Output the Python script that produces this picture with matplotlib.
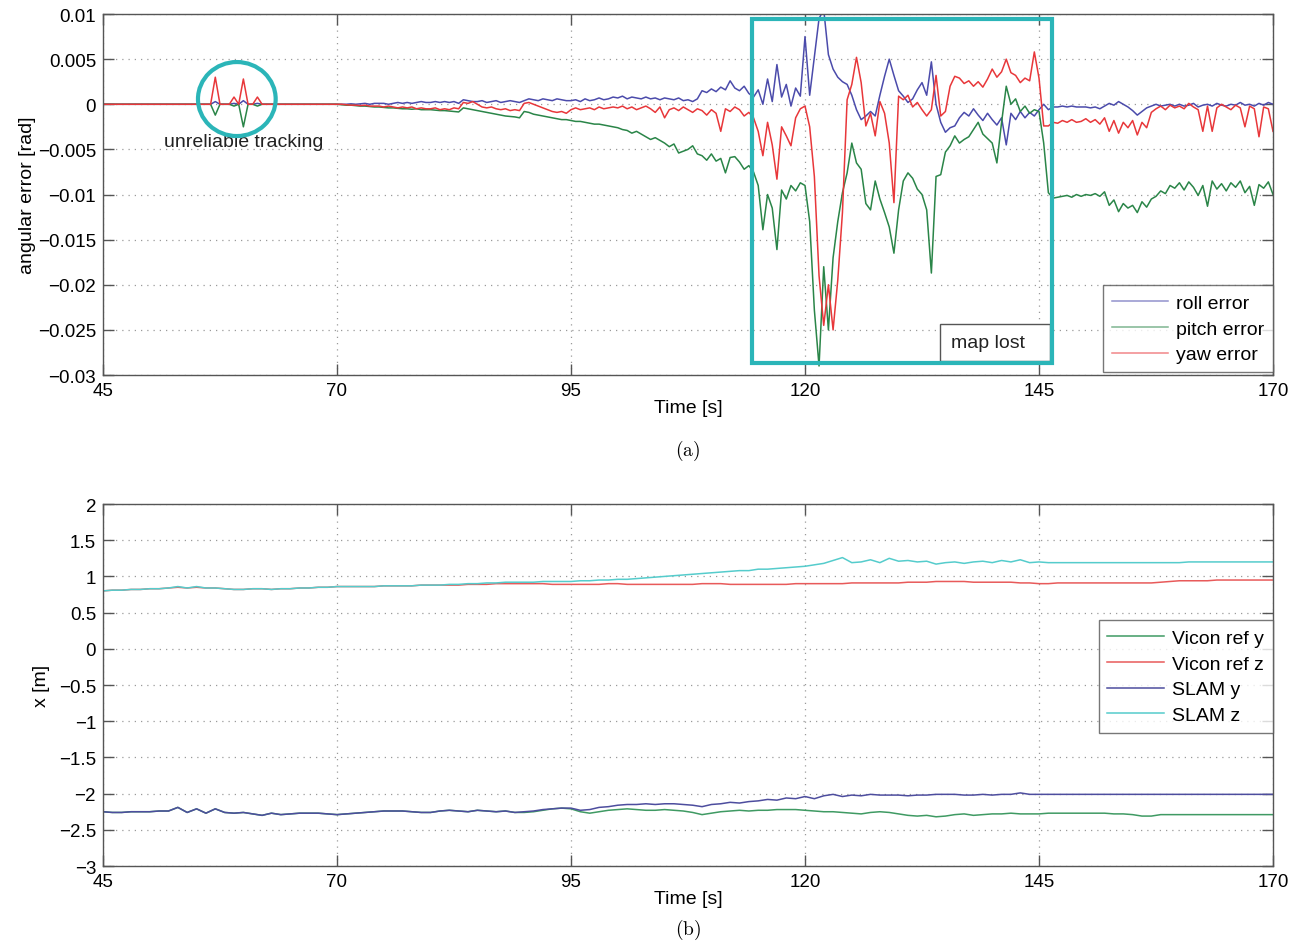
import numpy as np
import matplotlib
matplotlib.use("Agg")
import matplotlib.pyplot as plt
from matplotlib.patches import Rectangle, Ellipse

plt.rcParams["font.family"] = ["Liberation Sans", "DejaVu Sans"]
plt.rcParams["mathtext.fontset"] = "cm"

# --------------------------------------------------------------------------- #
# Data (a): angular errors in mrad, 0.5 s step, 45..170 s
# --------------------------------------------------------------------------- #
t_err = np.arange(45.0, 170.01, 0.5)

roll_err = [
    0, 0, 0, 0, 0, 0, 0, 0, 0, 0,
    0, 0, 0, 0, 0, 0, 0, 0, 0, 0,
    0, 0, 0, 0, 0.3, 0, 0, 0, 0.1, 0,
    0.4, 0, 0, 0.1, 0, 0, 0, 0, 0, 0,
    0, 0, 0, 0, 0, 0, 0, 0, 0, 0,
    0, 0, 0, 0.05, 0, 0.05, 0.1, 0, 0.1, 0.1,
    0.1, 0, 0.1, 0.2, 0.1, 0.2, 0.1, 0.2, 0.3, 0.2,
    0.2, 0.3, 0.2, 0.3, 0.2, 0.3, 0.1, 0.5, 0.4, 0.3,
    0.3, 0.4, 0.2, 0.3, 0.4, 0.2, 0.3, 0.4, 0.3, 0.2,
    0.4, 0.6, 0.5, 0.4, 0.6, 0.5, 0.4, 0.6, 0.5, 0.4,
    0.4, 0.5, 0.3, 0.6, 0.4, 0.5, 0.7, 0.5, 0.6, 0.8,
    0.7, 0.9, 0.6, 0.8, 0.7, 0.6, 0.8, 0.6, 0.7, 0.5,
    0.7, 0.6, 0.5, 0.7, 0.4, 0.5, 0.3, 0.6, 1.5, 1.3,
    1.7, 1.4, 1.9, 1.6, 2.6, 1.8, 1.5, 2.0, 1.2, 0.8,
    1.6, 0.0, 2.8, 0.3, 4.4, 0.8, 2.2, -0.2, 1.8, 0.9,
    7.5, 1.0, 5.3, 9.5, 10.5, 5.5, 3.9, 3.0, 2.5, 2.2,
    1.0, -0.6, -1.7, -1.3, -0.8, -1.3, 1.0, 3.1, 5.0, 3.2,
    1.5, 0.9, 0.2, 0.6, 1.6, 2.4, 1.0, 4.7, 0.0, -2.0,
    -3.1, -2.6, -2.4, -1.5, -0.9, -1.3, -0.5, -1.2, -1.8, -1.0,
    -1.7, -2.3, -1.5, -4.5, -1.0, -1.7, -0.8, -1.5, -0.9, -1.3,
    -0.6, 0.0, -0.6, -0.3, -0.3, -0.2, -0.3, -0.2, -0.3, -0.3,
    -0.3, -0.4, -0.3, -0.5, -0.2, 0.1, -0.1, 0.3, 0.0, -0.3,
    -0.7, -1.2, -0.8, -0.4, -0.2, 0.0, -0.2, -0.1, 0.0, -0.2,
    0.0, -0.2, -0.1, 0.1, -0.3, -0.1, 0.0, -0.2, 0.1, -0.1,
    -0.2, 0.0, -0.1, 0.2, -0.1, 0.0, -0.2, 0.1, -0.1, 0.2,
    0.0,
]

pitch_err = [
    0, 0, 0, 0, 0, 0, 0, 0, 0, 0,
    0, 0, 0, 0, 0, 0, 0, 0, 0, 0,
    0, 0, 0, 0, -1.2, 0, 0, 0, -0.2, 0,
    -2.5, 0, 0, -0.2, 0, 0, 0, 0, 0, 0,
    0, 0, 0, 0, 0, 0, 0, 0, 0, 0,
    0, -0.05, -0.1, -0.1, -0.15, -0.2, -0.2, -0.25, -0.3, -0.3,
    -0.35, -0.4, -0.4, -0.45, -0.5, -0.5, -0.55, -0.5, -0.6, -0.6,
    -0.6, -0.65, -0.7, -0.7, -0.75, -0.8, -0.85, -0.4, -0.5, -0.6,
    -0.7, -0.8, -0.9, -1.0, -1.1, -1.2, -1.3, -1.35, -1.4, -1.5,
    -0.8, -0.9, -1.1, -1.2, -1.3, -1.4, -1.5, -1.6, -1.7, -1.7,
    -1.8, -1.9, -1.9, -2.0, -2.1, -2.2, -2.2, -2.3, -2.4, -2.5,
    -2.6, -2.8, -2.9, -3.2, -3.0, -3.3, -3.6, -3.9, -3.7, -4.0,
    -4.3, -4.7, -4.4, -5.4, -5.2, -5.0, -4.6, -5.5, -5.7, -6.2,
    -5.5, -6.3, -6.0, -7.6, -5.9, -5.8, -6.4, -7.2, -6.8, -7.5,
    -9.0, -13.9, -10.0, -11.5, -16.1, -9.5, -10.5, -9.0, -9.6, -8.7,
    -9.0, -13.0, -22.8, -29.0, -18.0, -25.0, -17.0, -13.0, -9.8, -7.6,
    -4.3, -6.5, -7.2, -11.0, -11.7, -8.5, -10.5, -12.0, -13.6, -16.5,
    -11.7, -8.5, -7.6, -8.2, -9.4, -10.0, -11.7, -18.7, -8.0, -7.8,
    -5.3, -4.6, -3.5, -4.3, -3.9, -3.6, -2.8, -2.0, -3.3, -3.8,
    -4.3, -6.5, -2.0, 2.0, 0.0, 0.6, -0.8, -0.2, -1.0, -0.6,
    -0.8, -4.3, -9.8, -10.4, -10.3, -10.2, -10.1, -10.3, -10.0, -10.2,
    -10.0, -10.1, -9.9, -10.2, -9.7, -11.2, -10.6, -11.9, -11.0, -11.5,
    -11.2, -12.0, -10.8, -11.4, -10.5, -10.2, -9.6, -9.9, -9.0, -9.3,
    -8.7, -9.5, -8.6, -9.2, -10.1, -9.0, -11.3, -8.5, -9.4, -8.8,
    -9.6, -8.7, -9.2, -8.5, -9.8, -9.1, -11.2, -8.9, -9.3, -8.6,
    -10.0,
]

yaw_err = [
    0, 0, 0, 0, 0, 0, 0, 0, 0, 0,
    0, 0, 0, 0, 0, 0, 0, 0, 0, 0,
    0, 0, 0, 0, 3.0, 0, 0, 0, 0.8, 0,
    2.8, 0, 0, 0.8, 0, 0, 0, 0, 0, 0,
    0, 0, 0, 0, 0, 0, 0, 0, 0, 0,
    0, 0, -0.05, -0.1, -0.1, -0.15, -0.1, -0.2, -0.2, -0.2,
    -0.3, -0.2, -0.3, -0.4, -0.3, -0.4, -0.3, -0.5, -0.4, -0.5,
    -0.5, -0.4, -0.6, -0.5, -0.6, -0.4, -0.5, 0.2, 0.1, 0.3,
    0.0, -0.3, -0.4, -0.3, -0.5, -0.6, -0.5, -0.7, -0.6, -0.7,
    0.1, 0.2, 0.0, -0.2, -0.4, -0.6, -0.8, -0.9, -0.8, -1.0,
    -0.6, -0.4, -0.6, -0.5, -0.4, -0.6, -0.3, -0.5, -0.4, -0.3,
    -0.4, -0.2, -0.5, -0.3, -0.6, -0.4, -0.2, -0.5, -0.9, -0.3,
    -1.5, -0.6, -0.4, -0.7, -0.3, -0.6, -0.9, -0.5, -0.7, -1.2,
    -0.6, -1.0, -3.0, -0.5, -0.8, -0.3, -0.6, -1.3, -0.9, -1.5,
    -3.0, -5.7, -2.0, -4.5, -8.3, -2.5, -3.5, -4.6, -1.5, -0.5,
    -0.2, -2.5, -8.0, -19.0, -24.5, -20.0, -25.0, -19.5, -12.0, 0.5,
    2.2, 5.2, 2.4, -2.4, -1.0, -3.5, 0.3, -1.0, -4.3, -10.9,
    0.9, 0.5, 1.0, -0.3, 0.2, -0.6, -1.3, -0.6, 3.2, -1.3,
    -0.8, 2.0, 3.1, 2.9, 2.3, 2.6, 2.0, 2.5, 1.9, 2.8,
    3.9, 3.0, 3.6, 5.0, 3.5, 3.2, 2.4, 2.9, 2.6, 5.8,
    2.9, -2.4, -2.4, -2.0, -2.1, -1.8, -2.0, -1.7, -2.0, -1.9,
    -1.6, -2.0, -1.7, -2.2, -1.5, -3.0, -1.8, -3.2, -2.0, -2.6,
    -1.8, -3.4, -2.0, -2.6, -0.9, -0.5, -0.2, -0.6, -0.1, -0.4,
    -0.2, -0.5, 0.1, -0.3, -0.6, -3.0, -0.2, -3.0, -0.4, 0.0,
    -0.3, -0.6, -0.1, -0.4, -2.5, -0.2, -0.5, -3.6, -0.3, -0.5,
    -3.0,
]

# --------------------------------------------------------------------------- #
# Data (b): positions [m], 1 s step, 45..170 s
# --------------------------------------------------------------------------- #
t_pos = np.arange(45.0, 170.01, 1.0)

vicon_y = [
    -2.25, -2.26, -2.26, -2.25, -2.25, -2.25, -2.24, -2.24, -2.19, -2.26,
    -2.21, -2.27, -2.21, -2.26, -2.27, -2.26, -2.28, -2.30, -2.27, -2.29,
    -2.28, -2.27, -2.27, -2.27, -2.28, -2.29, -2.28, -2.27, -2.26, -2.25,
    -2.24, -2.24, -2.24, -2.25, -2.26, -2.26, -2.24, -2.23, -2.24, -2.25,
    -2.23, -2.24, -2.25, -2.24, -2.26, -2.26, -2.25, -2.23, -2.21, -2.20,
    -2.21, -2.25, -2.27, -2.25, -2.23, -2.22, -2.21, -2.22, -2.23, -2.23,
    -2.22, -2.23, -2.24, -2.26, -2.29, -2.27, -2.25, -2.24, -2.23, -2.24,
    -2.23, -2.23, -2.22, -2.22, -2.22, -2.23, -2.24, -2.25, -2.25, -2.26,
    -2.27, -2.28, -2.26, -2.25, -2.26, -2.28, -2.30, -2.31, -2.30, -2.32,
    -2.31, -2.29, -2.28, -2.30, -2.29, -2.28, -2.28, -2.27, -2.28, -2.28,
    -2.28, -2.27, -2.27, -2.27, -2.27, -2.27, -2.27, -2.27, -2.28, -2.28,
    -2.29, -2.31, -2.31, -2.29, -2.29, -2.29, -2.29, -2.29, -2.29, -2.29,
    -2.29, -2.29, -2.29, -2.29, -2.29, -2.29,
]

vicon_z = [
    0.80, 0.81, 0.81, 0.82, 0.82, 0.83, 0.83, 0.84, 0.85, 0.84,
    0.85, 0.84, 0.84, 0.83, 0.82, 0.82, 0.83, 0.83, 0.82, 0.83,
    0.83, 0.84, 0.84, 0.85, 0.85, 0.86, 0.86, 0.86, 0.86, 0.86,
    0.87, 0.87, 0.87, 0.87, 0.88, 0.88, 0.88, 0.88, 0.88, 0.89,
    0.89, 0.89, 0.90, 0.90, 0.90, 0.90, 0.90, 0.90, 0.89, 0.89,
    0.89, 0.89, 0.89, 0.89, 0.90, 0.90, 0.89, 0.89, 0.89, 0.89,
    0.89, 0.89, 0.89, 0.89, 0.90, 0.90, 0.90, 0.89, 0.89, 0.89,
    0.89, 0.89, 0.89, 0.89, 0.90, 0.90, 0.90, 0.90, 0.90, 0.90,
    0.91, 0.91, 0.91, 0.91, 0.91, 0.91, 0.92, 0.92, 0.92, 0.93,
    0.93, 0.93, 0.93, 0.92, 0.92, 0.92, 0.92, 0.92, 0.91, 0.91,
    0.90, 0.90, 0.91, 0.91, 0.91, 0.91, 0.91, 0.91, 0.91, 0.91,
    0.91, 0.91, 0.91, 0.92, 0.93, 0.94, 0.94, 0.94, 0.94, 0.95,
    0.95, 0.95, 0.95, 0.95, 0.95, 0.95,
]

slam_y = [
    -2.25, -2.26, -2.26, -2.25, -2.25, -2.25, -2.24, -2.24, -2.19, -2.26,
    -2.21, -2.27, -2.21, -2.26, -2.27, -2.26, -2.28, -2.30, -2.27, -2.29,
    -2.28, -2.27, -2.27, -2.27, -2.28, -2.29, -2.28, -2.27, -2.26, -2.25,
    -2.24, -2.24, -2.24, -2.25, -2.26, -2.26, -2.24, -2.23, -2.24, -2.25,
    -2.23, -2.24, -2.25, -2.24, -2.26, -2.25, -2.24, -2.22, -2.21, -2.20,
    -2.20, -2.23, -2.22, -2.19, -2.18, -2.16, -2.15, -2.15, -2.14, -2.15,
    -2.14, -2.14, -2.15, -2.16, -2.18, -2.15, -2.14, -2.12, -2.13, -2.11,
    -2.10, -2.08, -2.09, -2.06, -2.07, -2.04, -2.07, -2.03, -2.01, -2.04,
    -2.02, -2.03, -2.01, -2.02, -2.02, -2.02, -2.03, -2.02, -2.02, -2.01,
    -2.01, -2.01, -2.02, -2.02, -2.01, -2.02, -2.01, -2.01, -1.99, -2.01,
    -2.01, -2.01, -2.01, -2.01, -2.01, -2.01, -2.01, -2.01, -2.01, -2.01,
    -2.01, -2.01, -2.01, -2.01, -2.01, -2.01, -2.01, -2.01, -2.01, -2.01,
    -2.01, -2.01, -2.01, -2.01, -2.01, -2.01,
]

slam_z = [
    0.80, 0.81, 0.81, 0.82, 0.82, 0.83, 0.83, 0.84, 0.86, 0.84,
    0.86, 0.84, 0.84, 0.83, 0.82, 0.82, 0.83, 0.83, 0.82, 0.83,
    0.83, 0.84, 0.84, 0.85, 0.85, 0.86, 0.86, 0.86, 0.86, 0.86,
    0.87, 0.87, 0.87, 0.87, 0.88, 0.88, 0.88, 0.89, 0.89, 0.90,
    0.90, 0.91, 0.91, 0.92, 0.92, 0.92, 0.92, 0.93, 0.93, 0.93,
    0.93, 0.94, 0.94, 0.95, 0.95, 0.96, 0.96, 0.97, 0.98, 0.99,
    1.00, 1.01, 1.02, 1.03, 1.04, 1.05, 1.06, 1.07, 1.08, 1.08,
    1.10, 1.10, 1.11, 1.12, 1.13, 1.14, 1.16, 1.18, 1.22, 1.26,
    1.19, 1.20, 1.23, 1.19, 1.25, 1.21, 1.22, 1.20, 1.21, 1.17,
    1.19, 1.20, 1.18, 1.20, 1.21, 1.19, 1.22, 1.20, 1.23, 1.19,
    1.20, 1.19, 1.19, 1.19, 1.19, 1.19, 1.19, 1.19, 1.19, 1.19,
    1.19, 1.19, 1.19, 1.19, 1.19, 1.19, 1.20, 1.20, 1.20, 1.20,
    1.20, 1.20, 1.20, 1.20, 1.20, 1.20,
]

x_ticks = [45, 70, 95, 120, 145, 170]
err_ticks = [0.01, 0.005, 0, -0.005, -0.01, -0.015, -0.02, -0.025, -0.03]
err_labels = ["0.01", "0.005", "0", "\u22120.005", "\u22120.01", "\u22120.015",
              "\u22120.02", "\u22120.025", "\u22120.03"]
pos_ticks = [2, 1.5, 1, 0.5, 0, -0.5, -1, -1.5, -2, -2.5, -3]
pos_labels = ["2", "1.5", "1", "0.5", "0", "\u22120.5", "\u22121", "\u22121.5",
              "\u22122", "\u22122.5", "\u22123"]

# --------------------------------------------------------------------------- #
# Figure
# --------------------------------------------------------------------------- #
BLUE, GREEN, RED, CYAN = "#4b4bab", "#2a8548", "#e8373a", "#55cccc"
TEAL = "#2bb5b8"
FS = 14
FS_TICK = 13.5

fig = plt.figure(figsize=(13.05, 9.45), dpi=100)
ax1 = fig.add_axes([0.0789, 0.6021, 0.8966, 0.3820])
ax2 = fig.add_axes([0.0789, 0.0825, 0.8966, 0.3831])


def matlab_style(ax):
    ax.grid(True, color="#9a9a9a", linestyle=(0, (1, 4)), linewidth=0.9)
    ax.tick_params(direction="in", top=True, right=True, length=8,
                   width=1, color="#555555", labelsize=FS_TICK, pad=5)
    for s in ax.spines.values():
        s.set_color("#555555")
        s.set_linewidth(1.0)
    ax.set_xticks(x_ticks)
    ax.set_xlim(45, 170)


# --- (a) angular errors ---
ax1.plot(t_err, np.array(roll_err) * 1e-3, color=BLUE, lw=1.1, label="roll error")
ax1.plot(t_err, np.array(pitch_err) * 1e-3, color=GREEN, lw=1.1, label="pitch error")
ax1.plot(t_err, np.array(yaw_err) * 1e-3, color=RED, lw=1.1, label="yaw error")
matlab_style(ax1)
ax1.set_ylim(-0.03, 0.01)
ax1.set_yticks(err_ticks)
ax1.set_yticklabels(err_labels)
ax1.set_ylabel("angular error [rad]", fontsize=FS, labelpad=1)
ax1.set_xlabel("Time [s]", fontsize=FS, labelpad=0)

ax1.add_patch(Ellipse((59.3, 0.00058), 8.3, 0.0082, fill=False,
                      edgecolor=TEAL, lw=3, zorder=5))
ax1.text(60.0, -0.0041, "unreliable tracking", ha="center", va="center",
         fontsize=FS, color="#222222")
ax1.add_patch(Rectangle((114.3, -0.02867), 32.1, 0.03812, fill=False,
                        edgecolor=TEAL, lw=3, zorder=5))
ax1.add_patch(Rectangle((134.4, -0.0285), 11.8, 0.0042, facecolor="white",
                        edgecolor="#555555", lw=1, zorder=4))
ax1.text(139.5, -0.0264, "map lost", ha="center", va="center",
         fontsize=FS, color="#222222", zorder=6)

leg1 = ax1.legend(loc="lower right", bbox_to_anchor=(1.0, 0.008), fontsize=FS,
                  frameon=True, fancybox=False, edgecolor="#555555",
                  borderaxespad=0.0, handlelength=2.9, handletextpad=0.4,
                  labelspacing=0.42, borderpad=0.45)
leg1.get_frame().set_linewidth(1.0)
for line in leg1.get_lines():
    line.set_alpha(0.6)

# --- (b) positions ---
ax2.plot(t_pos, vicon_y, color="#3f9a63", lw=1.1, label="Vicon ref y")
ax2.plot(t_pos, vicon_z, color="#e85a5a", lw=1.1, label="Vicon ref z")
ax2.plot(t_pos, slam_y, color="#4d4d9e", lw=1.1, label="SLAM y")
ax2.plot(t_pos, slam_z, color=CYAN, lw=1.1, label="SLAM z")
matlab_style(ax2)
ax2.set_ylim(-3, 2)
ax2.set_yticks(pos_ticks)
ax2.set_yticklabels(pos_labels)
ax2.set_ylabel("x [m]", fontsize=FS, labelpad=6)
ax2.set_xlabel("Time [s]", fontsize=FS, labelpad=0)

leg2 = ax2.legend(loc="center right", bbox_to_anchor=(1.0, 0.523), fontsize=FS,
                  frameon=True, fancybox=False, edgecolor="#555555",
                  borderaxespad=0.0, handlelength=2.9, handletextpad=0.45,
                  labelspacing=0.42, borderpad=0.45)
leg2.get_frame().set_linewidth(1.0)

fig.text(0.527, 0.523, r"$(\mathrm{a})$", ha="center", va="center", fontsize=FS)
fig.text(0.527, 0.016, r"$(\mathrm{b})$", ha="center", va="center", fontsize=FS)

fig.savefig("out.png", dpi=100)
